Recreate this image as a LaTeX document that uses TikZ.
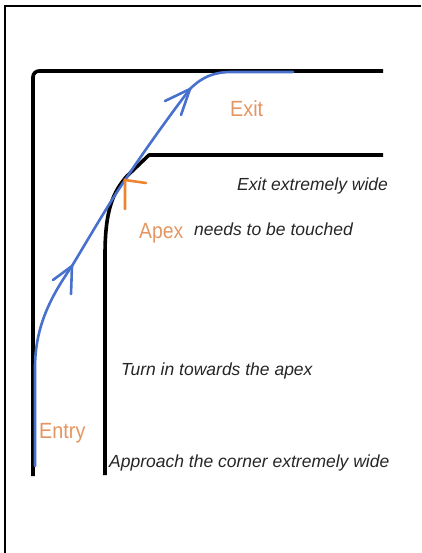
\documentclass[tikz,border=0pt]{standalone}
\usepackage{fontspec}
\setmainfont{Liberation Sans}
\definecolor{pathblue}{RGB}{72,112,205}
\definecolor{markorange}{RGB}{236,132,52}
\definecolor{labelorange}{RGB}{228,150,98}
\definecolor{notegray}{RGB}{38,38,38}
\tikzset{
  track/.style={line width=3.6pt, black},
  frameline/.style={line width=1.6pt, black},
  racing/.style={line width=2.6pt, pathblue, line cap=round, line join=round},
  chev/.style={line width=2.6pt, pathblue, line cap=round},
  apexmark/.style={line width=2.6pt, markorange, line cap=round},
  note/.style={anchor=base west, inner sep=0pt, text=notegray, font=\fontsize{17.5}{20}\selectfont\itshape},
  tag/.style={anchor=base west, inner sep=0pt, text=labelorange, font=\fontsize{22}{24}\selectfont}
}
\begin{document}
\begin{tikzpicture}[x=1pt,y=-1pt]
\useasboundingbox (0,0) rectangle (421,553);
% frame (top and left edges)
\draw[frameline] (5,553) -- (5,6) -- (421,6);
% outer edge of track
\draw[track, rounded corners=6pt] (33,476) -- (33,71) -- (383,71);
% inner edge of track
\draw[track, line join=round] (105,475) -- (105,255)
  .. controls (105,210) and (113,192) .. (127,176) -- (149,155) -- (383,155);
% racing line
\coordinate (s) at (35,466);
\coordinate (t) at (35,368);
\coordinate (a1) at (72,266);
\coordinate (ap) at (125,180);
\coordinate (a2) at (190,89);
\coordinate (e1) at (232,72);
\coordinate (e2) at (293,72);
\draw[racing] (s) -- (t) .. controls (35,325) and (52,295) .. (a1)
  .. controls (90,236) and (108,205) .. (ap)
  .. controls (145,150) and (170,115) .. (a2)
  .. controls (203,76) and (215,72) .. (e1) -- (e2);
% arrow chevrons
\coordinate (a1l) at (53,280);
\coordinate (a1r) at (71,294);
\draw[chev] (a1l) -- (a1) -- (a1r);
\coordinate (a2l) at (165,101);
\coordinate (a2r) at (181,115);
\draw[chev] (a2l) -- (a2) -- (a2r);
% apex mark
\coordinate (m1) at (146,183);
\coordinate (m2) at (125,209);
\draw[apexmark] (m1) -- (ap) -- (m2);
% labels
\node[tag] (exit) at (230,117) {\scalebox{0.9}[1]{Exit}};
\node[tag] (apex) at (139,238) {\scalebox{0.88}[1]{Apex}};
\node[tag] (entry) at (39,438) {\scalebox{0.9}[1]{Entry}};
\node[note] (n1) at (237,190) {Exit extremely wide};
\node[note] (n2) at (194,235) {needs to be touched};
\node[note] (n3) at (121,375) {Turn in towards the apex};
\node[note] (n4) at (109,467) {Approach the corner extremely wide};
\end{tikzpicture}
\end{document}
